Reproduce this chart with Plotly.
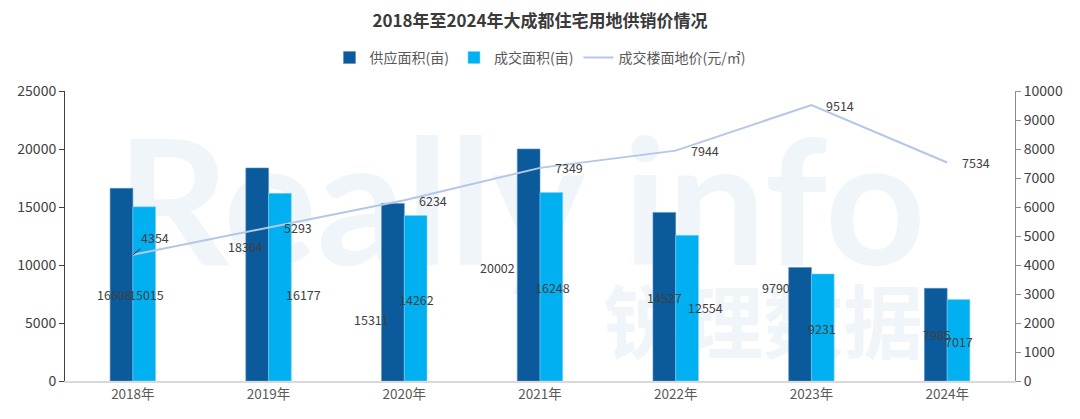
import plotly.graph_objects as go

years = ["2018年", "2019年", "2020年", "2021年", "2022年", "2023年", "2024年"]
supply = [16608, 18364, 15311, 20002, 14527, 9790, 7985]
deal = [15015, 16177, 14262, 16248, 12554, 9231, 7017]
price = [4354, 5293, 6234, 7349, 7944, 9514, 7534]

# label placement (style only): y level on left axis and horizontal pixel shift
supply_label_y = [7500, 11638, 5345, 9828, 7241, 8103, 3966]
supply_label_dx = [-18, -23, -33, -43, -11, -35, -10]
deal_label_y = [7500, 7500, 7069, 8103, 6379, 4569, 3448]
deal_label_dx = [14, 35, 12, 12, 30, 11, 12]

FONT = "Noto Sans CJK SC, Noto Sans, sans-serif"
C_SUPPLY = "#0A5A9C"
C_DEAL = "#00B0F0"
C_LINE = "#B4C7E7"
WM = "#F0F5FA"

fig = go.Figure()
fig.add_trace(go.Bar(x=years, y=supply, name="供应面积(亩)", marker_color=C_SUPPLY,
                     marker_line=dict(width=0.6, color="#5B8FC4")))
fig.add_trace(go.Bar(x=years, y=deal, name="成交面积(亩)", marker_color=C_DEAL,
                     marker_line=dict(width=0.6, color="#7FD3F5")))
fig.add_trace(go.Scatter(x=years, y=price, name="成交楼面地价(元/㎡)", mode="lines",
                         line=dict(color=C_LINE, width=2), yaxis="y2"))

ann = []
for i, yr in enumerate(years):
    ann.append(dict(x=yr, y=supply_label_y[i], xref="x", yref="y", text=str(supply[i]),
                    showarrow=False, xshift=supply_label_dx[i],
                    font=dict(size=12.5, color="#404040", family=FONT)))
    ann.append(dict(x=yr, y=deal_label_y[i], xref="x", yref="y", text=str(deal[i]),
                    showarrow=False, xshift=deal_label_dx[i],
                    font=dict(size=12.5, color="#404040", family=FONT)))
    if i == 0:
        ann.append(dict(x=yr, y=price[i], xref="x", yref="y2", text=str(price[i]),
                        showarrow=True, arrowhead=0, arrowwidth=1, arrowcolor="#333333",
                        ax=22, ay=-17, standoff=0,
                        font=dict(size=12.5, color="#404040", family=FONT)))
    else:
        ann.append(dict(x=yr, y=price[i], xref="x", yref="y2", text=str(price[i]),
                        showarrow=False, xshift=29,
                        font=dict(size=12.5, color="#404040", family=FONT)))

shapes = [
    dict(type="rect", xref="paper", yref="paper", x0=0.0, x1=0.96, y0=0.3, y1=0.98,
         layer="below", line=dict(width=0), fillcolor="rgba(0,0,0,0)",
         label=dict(text="<b>Really info</b>", textposition="middle center",
                    font=dict(size=175, color=WM, family="Lato, sans-serif"))),
    dict(type="rect", xref="paper", yref="paper", x0=0.55, x1=0.92, y0=0.02, y1=0.33,
         layer="below", line=dict(width=0), fillcolor="rgba(0,0,0,0)",
         label=dict(text="<b>锐理数据</b>", textposition="middle center",
                    font=dict(size=80, color=WM, family="Noto Sans CJK SC"))),
]

fig.update_layout(
    width=1080, height=419,
    margin=dict(l=65, r=65, t=91, b=38),
    paper_bgcolor="white", plot_bgcolor="rgba(0,0,0,0)",
    font=dict(family=FONT, color="#404040"),
    title=dict(text="<b>2018年至2024年大成都住宅用地供销价情况</b>", x=0.5, xanchor="center",
               y=1 - 21 / 419, yanchor="middle", font=dict(size=17, color="#3A3A3A", family=FONT)),
    barmode="group", bargap=0.665, bargroupgap=0,
    legend=dict(orientation="h", x=0.5, xanchor="center", y=1.114, yanchor="middle",
                font=dict(size=14, color="#595959", family=FONT), bgcolor="rgba(0,0,0,0)",
                itemwidth=30, tracegroupgap=0),
    showlegend=True,
    xaxis=dict(showline=True, linecolor="#D9D9D9", linewidth=1.5, ticks="", showgrid=False,
               tickfont=dict(size=13.5, color="#595959"), range=[-0.5, 6.5]),
    yaxis=dict(range=[0, 25000], dtick=5000, tickformat="d", showline=True, linecolor="#404040",
               linewidth=1, ticks="outside", ticklen=5, tickcolor="#404040", showgrid=False,
               zeroline=False, tickfont=dict(size=14, color="#404040")),
    yaxis2=dict(range=[0, 10000], dtick=1000, tickformat="d", overlaying="y", side="right",
                showline=True, linecolor="#8C8C8C", linewidth=1, ticks="outside", ticklen=5,
                tickcolor="#8C8C8C", showgrid=False, zeroline=False,
                tickfont=dict(size=14, color="#404040")),
    annotations=ann,
    shapes=shapes,
)

fig.write_html("out.html", config={"displayModeBar": False},
               post_script="document.body.style.margin='0';document.body.style.overflow='hidden';")
